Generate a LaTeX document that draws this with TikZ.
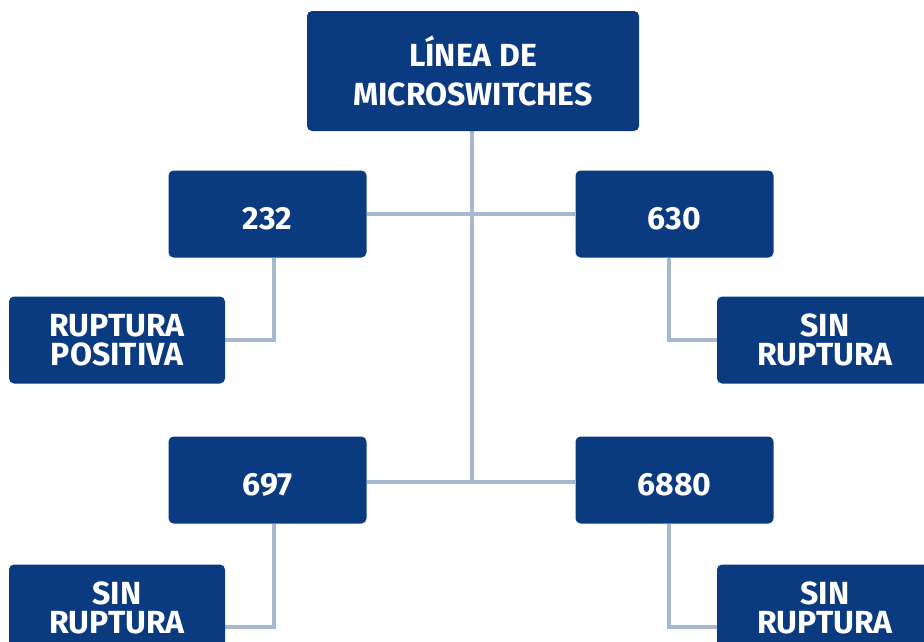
\documentclass[tikz,border=0pt]{standalone}
\usepackage{fontspec}
\setsansfont{Fira Sans}
\usetikzlibrary{positioning,backgrounds}

\definecolor{boxblue}{HTML}{0A3A80}
\definecolor{linkgray}{HTML}{A8B8CF}

\tikzset{
  caja/.style={rounded corners=5pt, fill=boxblue, text=white, inner sep=0pt,
    align=center, font=\sffamily\bfseries\fontsize{32}{29}\selectfont},
  serie/.style={caja, minimum width=198pt, minimum height=87pt,
    text height=31pt, text depth=0pt},
  tipo/.style={caja, minimum width=216pt, minimum height=87pt},
  enlace/.style={draw=linkgray, line width=4pt},
}

\begin{document}
\begin{tikzpicture}[x=1pt, y=-1pt]
  \path[use as bounding box] (0,0) rectangle (924,641);

  % ---- cajas ----
  \node[caja, minimum width=332pt, minimum height=120pt,
        font=\sffamily\bfseries\fontsize{32}{39}\selectfont]
        (linea) at (473,71) {LÍNEA DE\\MICROSWITCHES};

  \node[serie] (s232)  at (267.5,214) {232};
  \node[serie] (s630)  at (674.5,214) {630};
  \node[serie] (s697)  at (267.5,480) {697};
  \node[serie] (s6880) at (674.5,480) {6880};

  \node[tipo] (t232)  at (117,340) {RUPTURA\\POSITIVA};
  \node[tipo] (t630)  at (825,340) {SIN\\RUPTURA};
  \node[tipo] (t697)  at (117,608) {SIN\\RUPTURA};
  \node[tipo] (t6880) at (825,608) {SIN\\RUPTURA};

  % ---- tronco y ramas (detrás de las cajas) ----
  \begin{scope}[on background layer]
    \coordinate (base) at (472,482);
    \draw[enlace] ([xshift=-1pt]linea.south) -- (base);
    \draw[enlace] (s232.east) -- (s630.west);
    \draw[enlace] (s697.east |- base) -- (s6880.west |- base);
    % ramas de arriba: a media altura; las de abajo, más bajas
    \foreach \s/\t/\dx/\dy in {s232/t232/6.5/0, s630/t630/-5.5/0,
                               s697/t697/6.5/-19, s6880/t6880/-5.5/-19}
      \draw[enlace] ([xshift=\dx pt]\s.south) |- ([yshift=\dy pt]\t.west);
  \end{scope}
\end{tikzpicture}
\end{document}
